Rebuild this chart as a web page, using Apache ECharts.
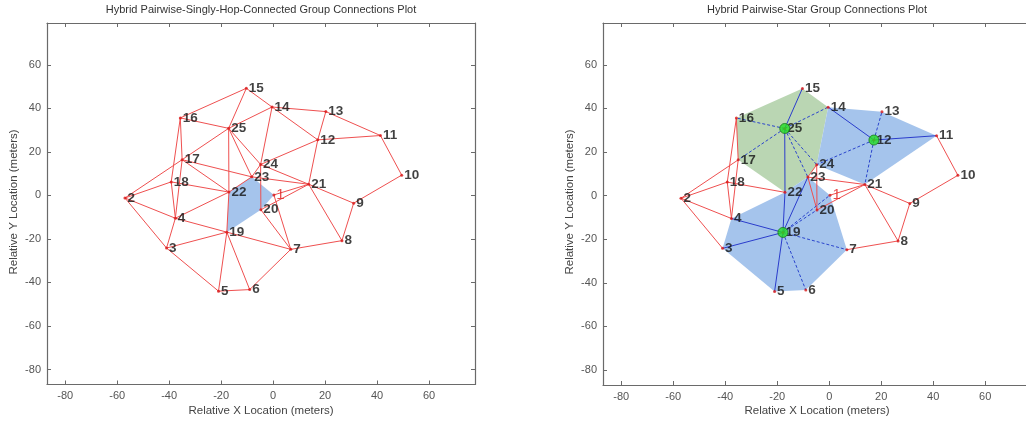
<!DOCTYPE html>
<html><head><meta charset="utf-8">
<script src="https://cdn.jsdelivr.net/npm/echarts@6/dist/echarts.min.js"></script>
<style>html,body{margin:0;padding:0;background:#fff}#c{width:1026px;height:423px}</style>
</head><body><div id="c"></div>
<script>
// ---- data ----
const nodeIds = [1,2,3,4,5,6,7,8,9,10,11,12,13,14,15,16,17,18,19,20,21,22,23,24,25];
const nodeX = [0.3,-57,-41,-37.6,-21,-9,6.8,26.5,31,49.5,41.3,17.2,20.3,-0.4,-10.3,-35.7,-35,-39.2,-17.8,-4.7,13.7,-17,-8.2,-4.8,-17.1];
const nodeY = [0.2,-1.2,-24.2,-10.5,-44,-43.3,-24.8,-20.8,-3.6,9.3,27.5,25.5,38.5,40.6,49.2,35.6,16.4,6.2,-16.9,-6.6,5.1,1.5,8.5,14.2,30.8];
const xTicks = [-80,-60,-40,-20,0,20,40,60];
const yTicks = [-80,-60,-40,-20,0,20,40,60];

const leftEdges = [[15,16],[15,25],[15,14],[14,25],[14,13],[14,12],[14,24],[13,11],[13,12],[12,11],[12,24],[12,21],[11,10],[10,9],
  [16,25],[16,17],[16,18],[17,25],[17,2],[17,22],[17,23],[17,4],[18,2],[18,22],[18,4],[2,4],[2,3],[25,22],[25,23],[25,24],
  [24,23],[24,21],[24,20],[23,21],[23,22],[22,4],[22,19],[4,19],[4,3],[3,19],[3,5],[19,5],[19,6],[19,7],[5,6],[6,7],[7,8],
  [8,9],[8,21],[9,21],[1,21],[20,21],[1,7],[20,7]];
const leftGroups = [[22,23,1,20,19]];

const rightPairEdges = [[16,17],[16,18],[17,2],[17,4],[18,2],[18,22],[18,4],[2,4],[2,3],[11,10],[10,9],[9,21],[9,8],[8,21],[8,7],
  [23,21],[1,21],[20,21],[23,20],[24,20],[24,23]];
const starSolid = [[25,15],[25,22],[12,14],[12,11],[19,4],[19,3],[19,5],[19,22],[19,23]];
const starDashed = [[25,16],[25,14],[25,17],[25,23],[25,24],[12,13],[12,21],[12,24],[19,6],[19,7],[19,20],[19,1]];
const rightGroups = [[15,14,24,23,22,17,16],[14,13,11,21,24],[4,22,23,1,7,6,5,3]];
const rightGroupColors = ['#bad6b3','#a5c4ec','#a5c4ec'];
const hubs = [25,12,19];

// ---- helpers ----
const FONT = 'Liberation Sans, Arial, sans-serif';
const AX = '#6a6a6a';
function axisCommon(extra){
  return Object.assign({type:'value', splitLine:{show:false},
    axisLine:{show:true, onZero:false, lineStyle:{color:AX, width:1.2}},
    axisTick:{show:true, inside:true, length:4, lineStyle:{color:AX}},
    axisLabel:{show:false}}, extra);
}
function xAxes(gi, xmax){
  return [
    axisCommon({gridIndex:gi, position:'bottom', min:-87, max:xmax,
      axisTick:{show:true, inside:true, length:4, customValues:xTicks, lineStyle:{color:AX}},
      axisLabel:{show:true, customValues:xTicks, color:'#555', fontSize:11, fontFamily:FONT, margin:6}}),
    axisCommon({gridIndex:gi, position:'top', min:-87, max:xmax,
      axisTick:{show:true, inside:true, length:4, customValues:xTicks, lineStyle:{color:AX}}})
  ];
}
function yAxes(gi, showRight){
  return [
    axisCommon({gridIndex:gi, position:'left', min:-86.9, max:79.2,
      axisTick:{show:true, inside:true, length:4, customValues:yTicks, lineStyle:{color:AX}},
      axisLabel:{show:true, customValues:yTicks, color:'#555', fontSize:11, fontFamily:FONT, margin:6}}),
    axisCommon({gridIndex:gi, position:'right', min:-86.9, max:79.2, show:showRight,
      axisTick:{show:true, inside:true, length:4, customValues:yTicks, lineStyle:{color:AX}}})
  ];
}
function edgeSeries(pairs, ax, color, dash, z){
  return {type:'custom', coordinateSystem:'cartesian2d', xAxisIndex:ax, yAxisIndex:ax, silent:true, animation:false, z:z, clip:false,
    data: pairs.map(([a,b]) => [nodeX[a-1], nodeY[a-1], nodeX[b-1], nodeY[b-1]]),
    renderItem: (params, api) => {
      const p1 = api.coord([api.value(0), api.value(1)]);
      const p2 = api.coord([api.value(2), api.value(3)]);
      return {type:'line', shape:{x1:p1[0], y1:p1[1], x2:p2[0], y2:p2[1]},
        style:{stroke:color, lineWidth:1, lineDash: dash ? [3,2] : null}};
    }};
}
function polySeries(groups, colors, ax){
  return {type:'custom', coordinateSystem:'cartesian2d', xAxisIndex:ax, yAxisIndex:ax, silent:true, animation:false, z:1,
    data: groups.map(g => [nodeX[g[0]-1], nodeY[g[0]-1]]),
    renderItem: (params, api) => {
      const g = groups[params.dataIndex];
      const pts = g.map(id => api.coord([nodeX[id-1], nodeY[id-1]]));
      return {type:'polygon', shape:{points:pts}, style:{fill:colors[params.dataIndex]}};
    }};
}
function nodeSeries(ax){
  return {type:'scatter', xAxisIndex:ax, yAxisIndex:ax, symbol:'circle', symbolSize:3, animation:false, z:4,
    itemStyle:{color:'#d81818'},
    label:{show:true, position:'right', distance:1, formatter:'{b}', fontSize:13.5, fontWeight:'bold', color:'#111', fontFamily:FONT},
    data: nodeIds.map((id,i) => ({name:String(id), value:[nodeX[i], nodeY[i]],
      label: id === 1 ? {color:'#e02020', fontWeight:'normal', fontSize:15} : undefined}))};
}

const chart = echarts.init(document.getElementById('c'), null, {renderer:'canvas'});
const xa = xAxes(0, 77.7).concat(xAxes(1, 75.7));
const ya = yAxes(0, true).concat(yAxes(1, false));
chart.setOption({
  backgroundColor:'#fff',
  animation:false,
  grid:[{left:47, top:23, width:428, height:361.5},{left:603, top:23, width:423, height:362}],
  xAxis: xa, yAxis: ya,
  graphic:[
    {type:'text', style:{text:'Hybrid Pairwise-Singly-Hop-Connected Group Connections Plot', x:261, y:10, align:'center', verticalAlign:'middle', fill:'#333', fontSize:11, fontFamily:FONT}},
    {type:'text', style:{text:'Hybrid Pairwise-Star Group Connections Plot', x:817, y:10, align:'center', verticalAlign:'middle', fill:'#333', fontSize:11, fontFamily:FONT}},
    {type:'text', style:{text:'Relative X Location (meters)', x:261, y:411, align:'center', verticalAlign:'middle', fill:'#444', fontSize:11.5, fontFamily:FONT}},
    {type:'text', style:{text:'Relative X Location (meters)', x:817, y:411, align:'center', verticalAlign:'middle', fill:'#444', fontSize:11.5, fontFamily:FONT}},
    {type:'text', x:14, y:202, rotation:Math.PI/2, style:{text:'Relative Y Location (meters)', x:0, y:0, align:'center', verticalAlign:'middle', fill:'#444', fontSize:11.5, fontFamily:FONT}},
    {type:'text', x:570, y:202, rotation:Math.PI/2, style:{text:'Relative Y Location (meters)', x:0, y:0, align:'center', verticalAlign:'middle', fill:'#444', fontSize:11.5, fontFamily:FONT}}
  ],
  series:[
    polySeries(leftGroups, ['#a5c4ec'], 0),
    edgeSeries(leftEdges, 0, '#ef5050', false, 2),
    nodeSeries(0),
    polySeries(rightGroups, rightGroupColors, 2),
    edgeSeries(rightPairEdges, 2, '#ef5050', false, 2),
    edgeSeries(starSolid, 2, '#2a3ccc', false, 3),
    edgeSeries(starDashed, 2, '#2a44cc', true, 3),
    nodeSeries(2),
    {type:'scatter', xAxisIndex:2, yAxisIndex:2, symbol:'circle', symbolSize:10, animation:false, z:6,
      itemStyle:{color:'#22dd22', borderColor:'#1a7a1a', borderWidth:1},
      data: hubs.map(h => [nodeX[h-1], nodeY[h-1]])}
  ]
});
</script></body></html>
